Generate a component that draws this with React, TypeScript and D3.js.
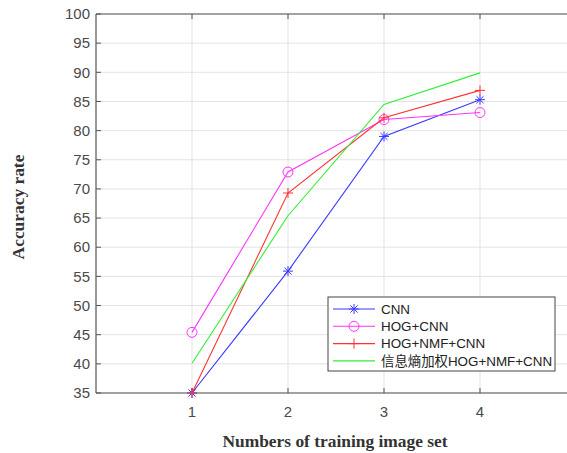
import React from "react";
import * as d3 from "d3";

const xValues = [1, 2, 3, 4];
const cnn = [35, 55.9, 79, 85.3];
const hogCnn = [45.4, 72.9, 81.9, 83.1];
const hogNmfCnn = [35, 69.3, 82.2, 86.9];
const weighted = [40.1, 65.4, 84.5, 89.9];
const seriesNames = ["CNN", "HOG+CNN", "HOG+NMF+CNN", "信息熵加权HOG+NMF+CNN"];
const seriesColors = ["#3a3aff", "#ff33ff", "#ff3333", "#33ee33"];
const seriesMarkers = ["star", "circle", "plus", "none"];
const yTicks = [35, 40, 45, 50, 55, 60, 65, 70, 75, 80, 85, 90, 95, 100];
const xTicks = [1, 2, 3, 4];

const W = 567, H = 453;
const left = 96, right = 576, top = 14, bottom = 393;

function Marker({ type, x, y, color }: { type: string; x: number; y: number; color: string }) {
  if (type === "circle") return <circle cx={x} cy={y} r={5} fill="none" stroke={color} strokeWidth={1} />;
  if (type === "plus")
    return (
      <g stroke={color} strokeWidth={1}>
        <line x1={x - 5} y1={y} x2={x + 5} y2={y} />
        <line x1={x} y1={y - 5} x2={x} y2={y + 5} />
      </g>
    );
  if (type === "star")
    return (
      <g stroke={color} strokeWidth={1}>
        <line x1={x - 5} y1={y} x2={x + 5} y2={y} />
        <line x1={x} y1={y - 5} x2={x} y2={y + 5} />
        <line x1={x - 3.6} y1={y - 3.6} x2={x + 3.6} y2={y + 3.6} />
        <line x1={x - 3.6} y1={y + 3.6} x2={x + 3.6} y2={y - 3.6} />
      </g>
    );
  return null;
}

export default function App() {
  const xs = d3.scaleLinear().domain([0, 5]).range([left, right]);
  const ys = d3.scaleLinear().domain([35, 100]).range([bottom, top]);
  const allSeries = [cnn, hogCnn, hogNmfCnn, weighted];
  const line = d3
    .line<number>()
    .x((_, i) => xs(xValues[i]))
    .y((d) => ys(d));
  const tickFont = "'Liberation Sans', Arial, sans-serif";
  const legX = 328, legY = 297, legW = 227, legH = 74;
  return (
    <svg width={W} height={H} style={{ position: "absolute", left: 0, top: 0, background: "#fff" }}>
      <rect x={0} y={0} width={W} height={H} fill="#fff" />
      {/* grid */}
      {yTicks.map((t) => (
        <line key={"gy" + t} x1={left} x2={right} y1={ys(t)} y2={ys(t)} stroke="#e3e3e3" strokeWidth={1} />
      ))}
      {xTicks.map((t) => (
        <line key={"gx" + t} x1={xs(t)} x2={xs(t)} y1={top} y2={bottom} stroke="#e3e3e3" strokeWidth={1} />
      ))}
      {/* axes box */}
      <line x1={left} x2={right} y1={top} y2={top} stroke="#555" strokeWidth={1.2} />
      <line x1={left} x2={right} y1={bottom} y2={bottom} stroke="#555" strokeWidth={1.2} />
      <line x1={left} x2={left} y1={top} y2={bottom} stroke="#555" strokeWidth={1.2} />
      {/* ticks */}
      {yTicks.map((t) => (
        <g key={"ty" + t}>
          <line x1={left} x2={left + 5} y1={ys(t)} y2={ys(t)} stroke="#555" />
          <text x={left - 6} y={ys(t)} dy="0.35em" textAnchor="end" fontSize={15} fill="#4a4a4a" fontFamily={tickFont}>
            {t}
          </text>
        </g>
      ))}
      {xTicks.map((t) => (
        <g key={"tx" + t}>
          <line x1={xs(t)} x2={xs(t)} y1={bottom} y2={bottom - 5} stroke="#555" />
          <line x1={xs(t)} x2={xs(t)} y1={top} y2={top + 5} stroke="#555" />
          <text x={xs(t)} y={bottom + 24} textAnchor="middle" fontSize={15} fill="#4a4a4a" fontFamily={tickFont}>
            {t}
          </text>
        </g>
      ))}
      {/* series */}
      {allSeries.map((s, k) => (
        <g key={"s" + k}>
          <path d={line(s) || ""} fill="none" stroke={seriesColors[k]} strokeWidth={1.1} />
          {s.map((v, i) => (
            <Marker key={i} type={seriesMarkers[k]} x={xs(xValues[i])} y={ys(v)} color={seriesColors[k]} />
          ))}
        </g>
      ))}
      {/* legend */}
      <rect x={legX} y={legY} width={legW} height={legH} fill="#fff" stroke="#444" strokeWidth={1} />
      {seriesNames.map((n, k) => {
        const yy = legY + 12 + k * 17.3;
        return (
          <g key={"l" + k}>
            <line x1={legX + 5} x2={legX + 47} y1={yy} y2={yy} stroke={seriesColors[k]} strokeWidth={1.1} />
            <Marker type={seriesMarkers[k]} x={legX + 26} y={yy} color={seriesColors[k]} />
            <text x={legX + 53} y={yy} dy="0.35em" fontSize={13.4} fill="#222" fontFamily={"'Liberation Sans', 'Noto Sans CJK SC', Arial, sans-serif"}>
              {n}
            </text>
          </g>
        );
      })}
      {/* axis labels */}
      <text
        x={335}
        y={447}
        textAnchor="middle"
        fontSize={17.4}
        fontWeight="bold"
        fill="#333"
        fontFamily="'Liberation Serif', 'Times New Roman', serif"
      >
        Numbers of training image set
      </text>
      <text
        transform={`translate(24, 207) rotate(-90)`}
        textAnchor="middle"
        fontSize={17.4}
        fontWeight="bold"
        fill="#333"
        fontFamily="'Liberation Serif', 'Times New Roman', serif"
      >
        Accuracy rate
      </text>
    </svg>
  );
}
